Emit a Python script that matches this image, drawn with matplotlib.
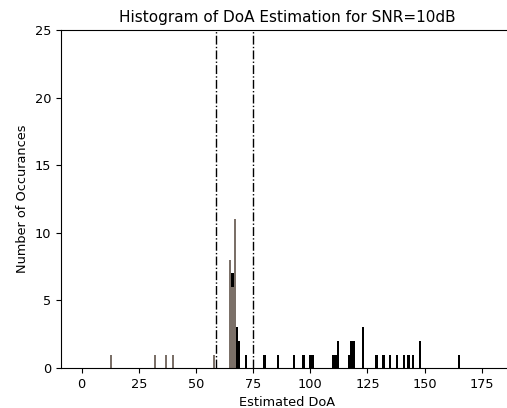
import numpy as np
import matplotlib
matplotlib.use("Agg")
import matplotlib.pyplot as plt

# gray histogram (bin centre in degrees, count)
gray_doa = [13, 32, 37, 40, 58, 65, 66, 67]
gray_cnt = [1, 1, 1, 1, 1, 8, 6, 11]

# black histogram
black_doa = [66, 68, 69, 72, 80, 86, 93, 97, 100, 101, 110, 111, 112,
             117, 118, 119, 123, 129, 132, 135, 138, 141, 143, 145, 148, 165]
black_cnt = [7, 3, 2, 1, 1, 1, 1, 1, 1, 1, 1, 1, 2,
             1, 2, 2, 3, 1, 1, 1, 1, 1, 1, 1, 2, 1]

bounds = [58.6, 74.8]
xticks = [0, 25, 50, 75, 100, 125, 150, 175]
yticks = [0, 5, 10, 15, 20, 25]

edges = np.arange(-0.5, 181.5, 1.0)

plt.rcParams['font.size'] = 9.3
fig = plt.figure(figsize=(5.07, 4.08), dpi=100)
ax = fig.add_axes([0.1203, 0.098, 0.893, 0.828])

ax.hist(black_doa, bins=edges, weights=black_cnt, color='black')
ax.hist(gray_doa, bins=edges, weights=gray_cnt, color='#7b7068')
for b in bounds:
    ax.axvline(b, color='black', linestyle='-.', linewidth=1)

ax.set_xlim(-9, 189)
ax.set_ylim(0, 25)
ax.set_xticks(xticks)
ax.set_yticks(yticks)
ax.tick_params(labelsize=9.3)
ax.set_xlabel('Estimated DoA', fontsize=9.3)
ax.set_ylabel('Number of Occurances', fontsize=9.3)
ax.set_title('Histogram of DoA Estimation for SNR=10dB', fontsize=11)

fig.savefig('out.png', dpi=100)
